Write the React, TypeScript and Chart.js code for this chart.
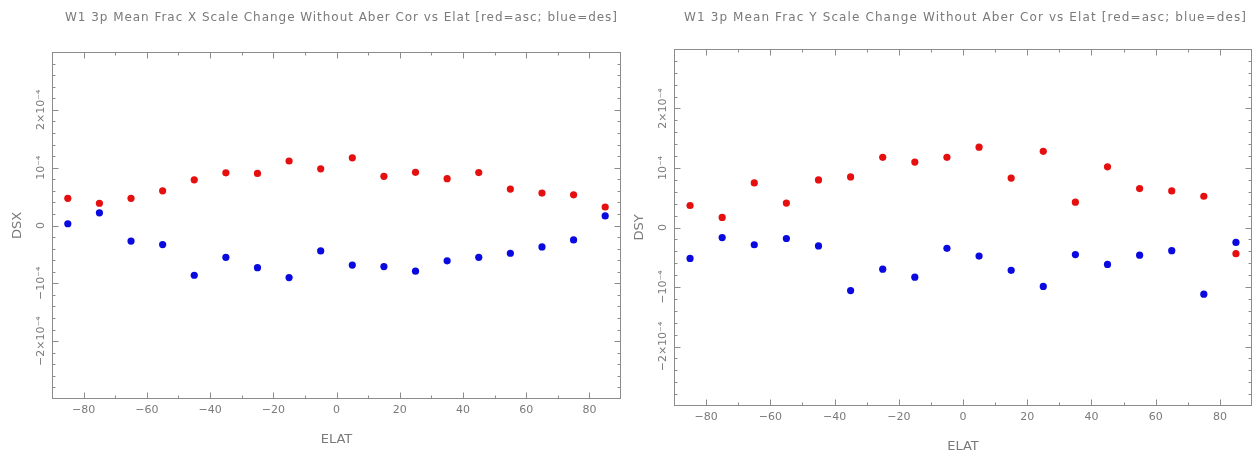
import React, { useEffect, useRef } from "react";
import { Chart, registerables } from "chart.js";

Chart.register(...registerables);

// ---------- data ----------
const elat = [-85, -75, -65, -55, -45, -35, -25, -15, -5, 5, 15, 25, 35, 45, 55, 65, 75, 85];

const dsxAsc = [0.47e-4, 0.385e-4, 0.47e-4, 0.6e-4, 0.79e-4, 0.91e-4, 0.9e-4, 1.115e-4, 0.98e-4, 1.17e-4, 0.85e-4, 0.92e-4, 0.81e-4, 0.915e-4, 0.63e-4, 0.56e-4, 0.53e-4, 0.32e-4];
const dsxDes = [0.03e-4, 0.22e-4, -0.27e-4, -0.33e-4, -0.86e-4, -0.55e-4, -0.73e-4, -0.9e-4, -0.44e-4, -0.685e-4, -0.71e-4, -0.79e-4, -0.61e-4, -0.55e-4, -0.48e-4, -0.37e-4, -0.25e-4, 0.165e-4];

const dsyAsc = [0.37e-4, 0.17e-4, 0.75e-4, 0.41e-4, 0.8e-4, 0.85e-4, 1.18e-4, 1.1e-4, 1.18e-4, 1.35e-4, 0.83e-4, 1.28e-4, 0.425e-4, 1.02e-4, 0.655e-4, 0.615e-4, 0.525e-4, -0.44e-4];
const dsyDes = [-0.52e-4, -0.17e-4, -0.29e-4, -0.185e-4, -0.31e-4, -1.06e-4, -0.7e-4, -0.835e-4, -0.35e-4, -0.48e-4, -0.72e-4, -0.99e-4, -0.455e-4, -0.62e-4, -0.465e-4, -0.39e-4, -1.12e-4, -0.25e-4];

// ---------- axes ----------
const xMin = -90;
const xMax = 90;
const yMin = -3e-4;
const yMax = 3e-4;
const xMajorTicks = [-80, -60, -40, -20, 0, 20, 40, 60, 80];
const xTickLabels = ["\u221280", "\u221260", "\u221240", "\u221220", "0", "20", "40", "60", "80"];
const xMinorTicks = [-70, -50, -30, -10, 10, 30, 50, 70];
const yMajorTicks = [-2e-4, -1e-4, 0, 1e-4, 2e-4];
const yTickLabels = ["\u22122\u00d710\u207b\u2074", "\u221210\u207b\u2074", "0", "10\u207b\u2074", "2\u00d710\u207b\u2074"];
const yMinorStep = 0.2e-4;

const titleX = "W1 3p Mean Frac X Scale Change Without Aber Cor vs Elat [red=asc; blue=des]";
const titleY = "W1 3p Mean Frac Y Scale Change Without Aber Cor vs Elat [red=asc; blue=des]";

const RED = "#e60f0f";
const BLUE = "#0a0ae0";
const TEXT = "#7a7a7a";
const LINE = "#8c8c8c";
const FONT = "'DejaVu Sans', sans-serif";

type PanelProps = {
  left: number;
  title: string;
  yTitle: string;
  asc: number[];
  des: number[];
  padding: { left: number; right: number; top: number; bottom: number };
  titleStart: number;
  titleWidth: number;
};

function Panel(props: PanelProps) {
  const ref = useRef<HTMLCanvasElement | null>(null);

  useEffect(() => {
    const canvas = ref.current;
    if (!canvas) return;

    const decor = {
      id: "decor",
      beforeDatasetsDraw(chart: any) {
        const ctx = chart.ctx;
        const xs = chart.scales.x;
        const ys = chart.scales.y;
        const a = chart.chartArea;
        const L = Math.round(a.left) + 0.5;
        const R = Math.round(a.right) - 0.5;
        const T = Math.round(a.top) + 0.5;
        const B = Math.round(a.bottom) - 0.5;
        ctx.save();
        ctx.strokeStyle = LINE;
        ctx.lineWidth = 1;
        ctx.strokeRect(L, T, R - L, B - T);
        ctx.beginPath();
        const xt = (v: number, len: number) => {
          const px = Math.round(xs.getPixelForValue(v)) + 0.5;
          ctx.moveTo(px, B);
          ctx.lineTo(px, B - len);
          ctx.moveTo(px, T);
          ctx.lineTo(px, T + len);
        };
        const yt = (v: number, len: number) => {
          const py = Math.round(ys.getPixelForValue(v)) + 0.5;
          ctx.moveTo(L, py);
          ctx.lineTo(L + len, py);
          ctx.moveTo(R, py);
          ctx.lineTo(R - len, py);
        };
        xMajorTicks.forEach((v) => xt(v, 6));
        xMinorTicks.forEach((v) => xt(v, 3));
        yMajorTicks.forEach((v) => yt(v, 6));
        for (let i = 0; ; i++) {
          const v = yMin + i * yMinorStep;
          if (v > yMax + 1e-9) break;
          if (yMajorTicks.some((m) => Math.abs(m - v) < 1e-9)) continue;
          if (Math.abs(v - yMin) < 1e-9 || Math.abs(v - yMax) < 1e-9) continue;
          yt(v, 3);
        }
        ctx.stroke();
        ctx.restore();
      },
      afterDraw(chart: any) {
        const ctx = chart.ctx;
        const xs = chart.scales.x;
        const ys = chart.scales.y;
        const a = chart.chartArea;
        ctx.save();
        ctx.fillStyle = TEXT;
        // x tick labels
        ctx.font = `11px ${FONT}`;
        ctx.textAlign = "center";
        ctx.textBaseline = "middle";
        xMajorTicks.forEach((v, i) => {
          ctx.fillText(xTickLabels[i], xs.getPixelForValue(v), a.bottom + 11);
        });
        // y tick labels (rotated)
        yMajorTicks.forEach((v, i) => {
          ctx.save();
          ctx.translate(a.left - 11, ys.getPixelForValue(v));
          ctx.rotate(-Math.PI / 2);
          ctx.fillText(yTickLabels[i], 0, 0);
          ctx.restore();
        });
        // axis titles
        ctx.font = `13px ${FONT}`;
        ctx.fillText("ELAT", (a.left + a.right) / 2, a.bottom + 41);
        ctx.save();
        ctx.translate(a.left - 34, ys.getPixelForValue(0));
        ctx.rotate(-Math.PI / 2);
        ctx.fillText(props.yTitle, 0, 0);
        ctx.restore();
        // chart title, stretched to the reference width
        ctx.font = `12px ${FONT}`;
        ctx.textAlign = "left";
        const w = ctx.measureText(props.title).width;
        const n = props.title.length;
        (ctx as any).letterSpacing = `${(props.titleWidth - w) / (n - 1)}px`;
        ctx.fillText(props.title, props.titleStart, 18);
        ctx.restore();
      },
    };

    const chart = new Chart(canvas, {
      type: "scatter",
      data: {
        datasets: [
          {
            label: "asc",
            data: elat.map((x, i) => ({ x, y: props.asc[i] })),
            backgroundColor: RED,
            borderWidth: 0,
            pointRadius: 3.6,
          },
          {
            label: "des",
            data: elat.map((x, i) => ({ x, y: props.des[i] })),
            backgroundColor: BLUE,
            borderWidth: 0,
            pointRadius: 3.6,
          },
        ],
      },
      options: {
        responsive: false,
        animation: false,
        layout: { padding: props.padding },
        plugins: { legend: { display: false }, tooltip: { enabled: false }, title: { display: false } },
        scales: {
          x: { type: "linear", min: xMin, max: xMax, display: false },
          y: { type: "linear", min: yMin, max: yMax, display: false },
        },
      },
      plugins: [decor],
    });
    return () => chart.destroy();
  }, []);

  return (
    <canvas
      ref={ref}
      width={628}
      height={456}
      style={{ position: "absolute", left: props.left, top: 0, width: 628, height: 456, display: "block" }}
    />
  );
}

export default function App() {
  return (
    <div style={{ position: "absolute", left: 0, top: 0, width: 1256, height: 456, background: "#fff", overflow: "hidden" }}>
      <Panel
        left={0}
        title={titleX}
        yTitle="DSX"
        asc={dsxAsc}
        des={dsxDes}
        padding={{ left: 52, right: 7, top: 52, bottom: 57 }}
        titleStart={65}
        titleWidth={552}
      />
      <Panel
        left={628}
        title={titleY}
        yTitle="DSY"
        asc={dsyAsc}
        des={dsyDes}
        padding={{ left: 46, right: 0, top: 49, bottom: 50 }}
        titleStart={56}
        titleWidth={562}
      />
    </div>
  );
}
